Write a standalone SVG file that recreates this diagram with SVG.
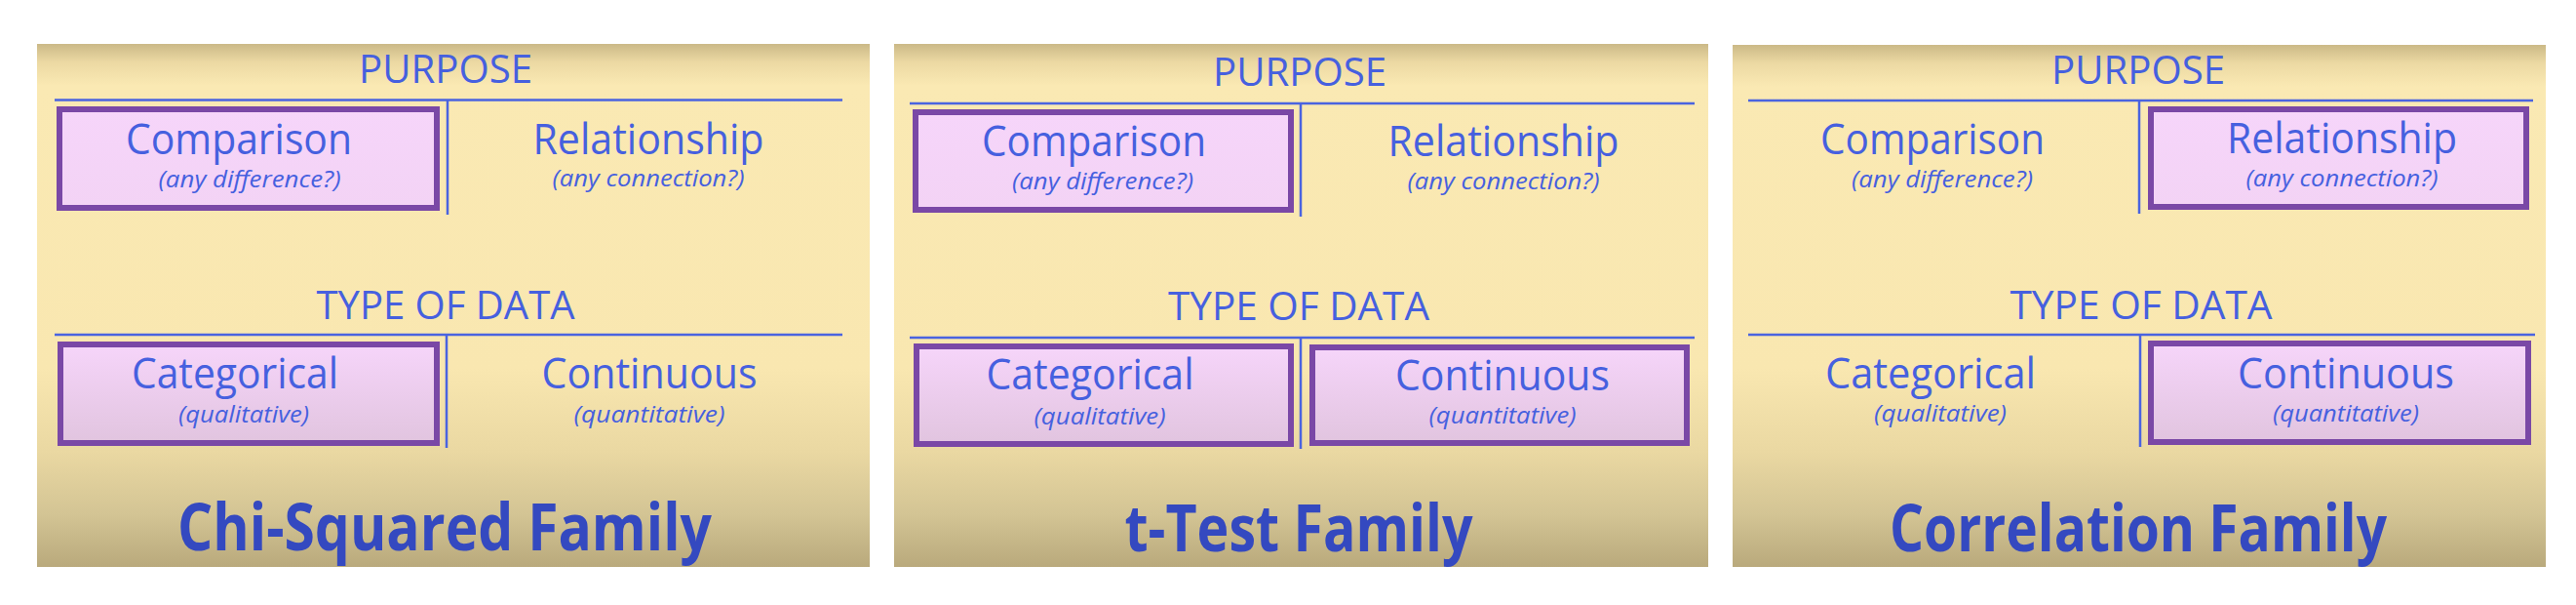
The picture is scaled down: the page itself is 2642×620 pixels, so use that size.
<svg xmlns="http://www.w3.org/2000/svg" width="2642" height="620" viewBox="0 0 2642 620">
<defs>
<linearGradient id="bg" x1="0" y1="0" x2="0" y2="1">
<stop offset="0" stop-color="#cbb987"/>
<stop offset="0.035" stop-color="#ecd9a3"/>
<stop offset="0.08" stop-color="#fae9b3"/>
<stop offset="0.62" stop-color="#f9e7b0"/>
<stop offset="0.78" stop-color="#ead8a2"/>
<stop offset="0.9" stop-color="#d3c494"/>
<stop offset="1" stop-color="#b9a97c"/>
</linearGradient>
<linearGradient id="boxTop" x1="0" y1="0" x2="0" y2="1">
<stop offset="0" stop-color="#f6d5fa"/>
<stop offset="1" stop-color="#f3d3f5"/>
</linearGradient>
<linearGradient id="boxBot" x1="0" y1="0" x2="0" y2="1">
<stop offset="0" stop-color="#f6d5fa"/>
<stop offset="1" stop-color="#e1c4df"/>
</linearGradient>
<style>
.panel{fill:url(#bg)}
.rule{stroke:#4a63e0;stroke-width:2.5;fill:none}
.sel{stroke:#7a48a6;stroke-width:6}
.top{fill:url(#boxTop)}
.bot{fill:url(#boxBot)}
.hd{font-family:"Open Sans","Liberation Sans",sans-serif;font-size:40px;fill:#4660df;text-anchor:middle}
.lb{font-family:"Open Sans","Liberation Sans",sans-serif;font-size:43px;fill:#4660df;text-anchor:middle}
.sb{font-family:"Open Sans","Liberation Sans",sans-serif;font-size:24px;font-style:italic;fill:#4660df;text-anchor:middle}
.tt{font-family:"Open Sans","Liberation Sans",sans-serif;font-size:66px;font-weight:bold;fill:#3449c0;text-anchor:middle}
</style>
</defs>

<g id="panel-chi">
<rect class="panel" x="38" y="45" width="854" height="536"/>
<text class="hd" x="457" y="85" textLength="178" lengthAdjust="spacingAndGlyphs">PURPOSE</text>
<rect class="sel top" x="61" y="112" width="387" height="101"/>
<text class="lb" x="245" y="158" textLength="232" lengthAdjust="spacingAndGlyphs">Comparison</text>
<text class="sb" x="256" y="192" textLength="187" lengthAdjust="spacingAndGlyphs">(any difference?)</text>
<text class="lb" x="665" y="158" textLength="237" lengthAdjust="spacingAndGlyphs">Relationship</text>
<text class="sb" x="665" y="191" textLength="197" lengthAdjust="spacingAndGlyphs">(any connection?)</text>
<text class="hd" x="457" y="327" textLength="265" lengthAdjust="spacingAndGlyphs">TYPE OF DATA</text>
<rect class="sel bot" x="62" y="353" width="386" height="101"/>
<text class="lb" x="241" y="398" textLength="212" lengthAdjust="spacingAndGlyphs">Categorical</text>
<text class="sb" x="250" y="433" textLength="134" lengthAdjust="spacingAndGlyphs">(qualitative)</text>
<text class="lb" x="666" y="398" textLength="221" lengthAdjust="spacingAndGlyphs">Continuous</text>
<text class="sb" x="666" y="433" textLength="155" lengthAdjust="spacingAndGlyphs">(quantitative)</text>
<text class="tt" x="456" y="564" textLength="548" lengthAdjust="spacingAndGlyphs">Chi-Squared Family</text>
</g>

<g id="panel-ttest">
<rect class="panel" x="917" y="45" width="835" height="536"/>
<text class="hd" x="1333" y="88" textLength="178" lengthAdjust="spacingAndGlyphs">PURPOSE</text>
<rect class="sel top" x="939" y="115" width="385" height="100"/>
<text class="lb" x="1122" y="160" textLength="230" lengthAdjust="spacingAndGlyphs">Comparison</text>
<text class="sb" x="1131" y="194" textLength="186" lengthAdjust="spacingAndGlyphs">(any difference?)</text>
<text class="lb" x="1542" y="160" textLength="237" lengthAdjust="spacingAndGlyphs">Relationship</text>
<text class="sb" x="1542" y="194" textLength="197" lengthAdjust="spacingAndGlyphs">(any connection?)</text>
<text class="hd" x="1332" y="328" textLength="268" lengthAdjust="spacingAndGlyphs">TYPE OF DATA</text>
<rect class="sel bot" x="940" y="355" width="384" height="100"/>
<text class="lb" x="1118" y="399" textLength="213" lengthAdjust="spacingAndGlyphs">Categorical</text>
<text class="sb" x="1128" y="435" textLength="135" lengthAdjust="spacingAndGlyphs">(qualitative)</text>
<rect class="sel bot" x="1346" y="356" width="384" height="98"/>
<text class="lb" x="1541" y="400" textLength="220" lengthAdjust="spacingAndGlyphs">Continuous</text>
<text class="sb" x="1541" y="434" textLength="151" lengthAdjust="spacingAndGlyphs">(quantitative)</text>
<text class="tt" x="1332" y="565" textLength="357" lengthAdjust="spacingAndGlyphs">t-Test Family</text>
</g>

<g id="panel-corr">
<rect class="panel" x="1777" y="46" width="834" height="535"/>
<text class="hd" x="2193" y="86" textLength="178" lengthAdjust="spacingAndGlyphs">PURPOSE</text>
<text class="lb" x="1982" y="158" textLength="230" lengthAdjust="spacingAndGlyphs">Comparison</text>
<text class="sb" x="1992" y="192" textLength="186" lengthAdjust="spacingAndGlyphs">(any difference?)</text>
<rect class="sel top" x="2206" y="112" width="385" height="100"/>
<text class="lb" x="2402" y="157" textLength="236" lengthAdjust="spacingAndGlyphs">Relationship</text>
<text class="sb" x="2402" y="191" textLength="197" lengthAdjust="spacingAndGlyphs">(any connection?)</text>
<text class="hd" x="2196" y="327" textLength="269" lengthAdjust="spacingAndGlyphs">TYPE OF DATA</text>
<text class="lb" x="1980" y="398" textLength="216" lengthAdjust="spacingAndGlyphs">Categorical</text>
<text class="sb" x="1990" y="432" textLength="136" lengthAdjust="spacingAndGlyphs">(qualitative)</text>
<rect class="sel bot" x="2206" y="352" width="387" height="101"/>
<text class="lb" x="2406" y="398" textLength="222" lengthAdjust="spacingAndGlyphs">Continuous</text>
<text class="sb" x="2406" y="432" textLength="150" lengthAdjust="spacingAndGlyphs">(quantitative)</text>
<text class="tt" x="2193" y="565" textLength="510" lengthAdjust="spacingAndGlyphs">Correlation Family</text>
</g>

<g id="connectors">
<path class="rule" d="M56 102.5H864M459 102.5V220M56 343H864M458 343V459"/>
<path class="rule" d="M933 106H1738M1334 106V222M933 346H1738M1334 346V460"/>
<path class="rule" d="M1793 103H2598M2194 103V219M1793 343H2600M2195 343V458"/>
</g>
</svg>
